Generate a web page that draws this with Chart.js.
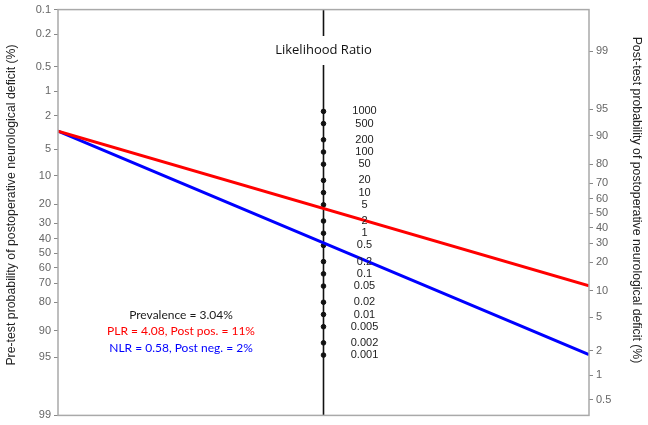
<!DOCTYPE html>
<html lang="en">
<head>
<meta charset="UTF-8">
<title>Fagan nomogram</title>
<script src="https://cdn.jsdelivr.net/npm/chart.js"></script>
<style>
  html, body { margin: 0; padding: 0; background: #fff; }
  #wrap { width: 648px; height: 425px; }
</style>
</head>
<body>
<div id="wrap"><canvas id="fagan"></canvas></div>
<script>
// tick labels of the three scales (%)
const preTicks = [0.1, 0.2, 0.5, 1, 2, 5, 10, 20, 30, 40, 50, 60, 70, 80, 90, 95, 99];
const postTicks = [0.5, 1, 2, 5, 10, 20, 30, 40, 50, 60, 70, 80, 90, 95, 99];
const lrTicks = [1000, 500, 200, 100, 50, 20, 10, 5, 2, 1, 0.5, 0.2, 0.1, 0.05, 0.02, 0.01, 0.005, 0.002, 0.001];

// study values
const prevalence = 3.04;
const ratioNames = ['PLR', 'NLR'];
const ratios = [4.08, 0.58];
const ratioColors = ['#ff0000', '#0000ff'];
const notes = ['Prevalence = 3.04%', 'PLR = 4.08, Post pos. = 11%', 'NLR = 0.58, Post neg. = 2%'];
const noteColors = ['#1a1a1a', '#ff0000', '#0000ff'];
const preTitle = 'Pre-test probability of postoperative neurological deficit (%)';
const postTitle = 'Post-test probability of postoperative neurological deficit (%)';

// LR = 1 sits slightly above the 50% mark of the pre-test axis in the original
const lrShift = -0.568;

const logit = p => Math.log(p / (100 - p));
const uMin = logit(preTicks[0]);
const uMax = logit(preTicks[preTicks.length - 1]);
const lrPos = v => lrShift - 0.5 * Math.log(v);

const axisFont = { family: '"Liberation Sans", Arial, sans-serif', size: 11 };

const datasets = ratios.map((lr, i) => ({
    label: ratioNames[i],
    data: [
        { x: 0, y: logit(prevalence) },
        { x: 1, y: 2 * lrShift - (logit(prevalence) + Math.log(lr)) }
    ],
    showLine: true,
    borderColor: ratioColors[i],
    borderWidth: 3,
    pointRadius: 0
}));

// the likelihood ratio scale in the middle
datasets.push({
    label: 'LR axis',
    data: [{ x: 0.5, y: uMin }, { x: 0.5, y: uMax }],
    showLine: true,
    borderColor: '#111',
    borderWidth: 1.6,
    pointRadius: 0
});
datasets.push({
    label: 'LR ticks',
    data: lrTicks.map(v => ({ x: 0.5, y: lrPos(v) })),
    showLine: false,
    pointRadius: 2.3,
    backgroundColor: '#111',
    borderColor: '#111'
});

const decor = {
    id: 'decor',
    afterDatasetsDraw(chart) {
        const { ctx, chartArea: a, scales: { x, y } } = chart;
        const cx = x.getPixelForValue(0.5);
        ctx.save();
        ctx.strokeStyle = '#a9a9a9';
        ctx.lineWidth = 1.5;
        ctx.strokeRect(a.left, a.top, a.width, a.height);

        ctx.textAlign = 'center';
        ctx.textBaseline = 'middle';
        ctx.fillStyle = '#222';
        ctx.font = '11px "Liberation Sans", Arial, sans-serif';
        lrTicks.forEach(v => ctx.fillText(String(v), cx + 41, y.getPixelForValue(lrPos(v))));

        // title box cuts the center line
        ctx.fillStyle = '#fff';
        ctx.fillRect(cx - 56, 36, 112, 29);
        ctx.fillStyle = '#111';
        ctx.font = '13px "Open Sans", sans-serif';
        ctx.fillText('Likelihood Ratio', cx, 50);

        ctx.font = '12px Lato, sans-serif';
        notes.forEach((t, i) => {
            ctx.fillStyle = noteColors[i];
            ctx.fillText(t, 181, 315 + i * 16.5);
        });

        // axis titles
        ctx.fillStyle = '#222';
        ctx.font = '12.3px "Liberation Sans", Arial, sans-serif';
        ctx.translate(12, 205);
        ctx.rotate(-Math.PI / 2);
        ctx.fillText(preTitle, 0, 0);
        ctx.setTransform(1, 0, 0, 1, 0, 0);
        ctx.translate(636, 200);
        ctx.rotate(Math.PI / 2);
        ctx.fillText(postTitle, 0, 0);
        ctx.restore();
    }
};

new Chart(document.getElementById('fagan'), {
    type: 'scatter',
    data: { datasets },
    options: {
        responsive: true,
        maintainAspectRatio: false,
        animation: false,
        layout: { padding: { top: 7, bottom: 7 } },
        plugins: { legend: { display: false }, tooltip: { enabled: false } },
        scales: {
            x: { type: 'linear', min: 0, max: 1, display: false },
            y: {
                type: 'linear', position: 'left', min: uMin, max: uMax, reverse: true,
                afterBuildTicks: s => { s.ticks = preTicks.map(p => ({ value: logit(p) })); },
                afterFit: s => { s.width = 58; },
                ticks: { autoSkip: false, padding: 3, color: '#666', font: axisFont,
                    callback: (v, i) => String(preTicks[i]) },
                grid: { drawOnChartArea: false, tickLength: 4, color: '#888' },
                border: { display: false }
            },
            y2: {
                type: 'linear', position: 'right',
                min: 2 * lrShift - uMax, max: 2 * lrShift - uMin,
                afterBuildTicks: s => { s.ticks = postTicks.map(p => ({ value: logit(p) })); },
                afterFit: s => { s.width = 59; },
                ticks: { autoSkip: false, padding: 3, color: '#666', font: axisFont,
                    callback: (v, i) => String(postTicks[i]) },
                grid: { drawOnChartArea: false, tickLength: 4, color: '#888' },
                border: { display: false }
            }
        }
    },
    plugins: [decor]
});
</script>
</body>
</html>
